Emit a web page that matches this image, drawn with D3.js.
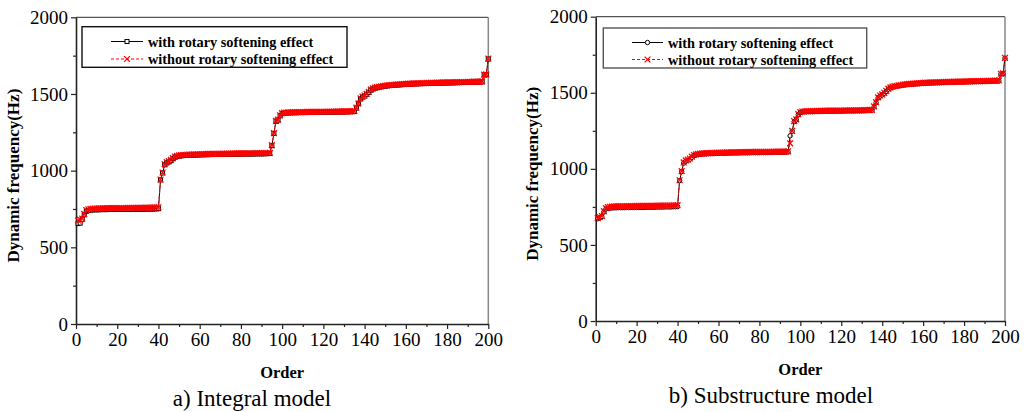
<!DOCTYPE html>
<html>
<head>
<meta charset="utf-8">
<script src="https://cdn.jsdelivr.net/npm/d3@7/dist/d3.min.js"></script>
<style>
  html, body { margin: 0; padding: 0; background: #fff; }
  svg { display: block; }
  text { font-family: "Liberation Serif", "Times New Roman", serif; fill: #000; }
</style>
</head>
<body>
<svg id="chart" width="1029" height="412"></svg>
<script>
// Mode order 1..200
const orders = d3.range(1, 201);

// Integral model, natural frequencies (Hz)
const integralWith = [
  655, 658, 683, 712, 735, 740, 743, 744, 745, 745,
  745, 746, 746, 746, 746, 747, 747, 747, 747, 747,
  748, 748, 748, 748, 748, 748, 749, 749, 749, 749,
  749, 749, 750, 750, 750, 750, 750, 751, 751, 752,
  940, 985, 1038, 1050, 1057, 1065, 1078, 1088, 1092, 1095,
  1097, 1098, 1099, 1100, 1101, 1101, 1102, 1102, 1103, 1103,
  1104, 1104, 1104, 1105, 1105, 1105, 1106, 1106, 1106, 1106,
  1107, 1107, 1107, 1107, 1107, 1108, 1108, 1108, 1108, 1108,
  1109, 1109, 1109, 1109, 1109, 1109, 1110, 1110, 1110, 1110,
  1110, 1111, 1111, 1112, 1163, 1243, 1322, 1330, 1358, 1372,
  1375, 1376, 1377, 1377, 1378, 1378, 1378, 1379, 1379, 1379,
  1379, 1380, 1380, 1380, 1380, 1380, 1381, 1381, 1381, 1381,
  1381, 1382, 1382, 1382, 1382, 1382, 1383, 1383, 1383, 1383,
  1384, 1384, 1384, 1385, 1386, 1408, 1436, 1468, 1480, 1487,
  1498, 1510, 1525, 1533, 1538, 1541, 1544, 1547, 1549, 1551,
  1553, 1555, 1556, 1557, 1558, 1559, 1560, 1561, 1562, 1563,
  1564, 1564, 1565, 1566, 1566, 1567, 1567, 1568, 1568, 1569,
  1569, 1570, 1570, 1570, 1571, 1571, 1571, 1572, 1572, 1572,
  1573, 1573, 1573, 1574, 1574, 1574, 1575, 1575, 1575, 1576,
  1576, 1576, 1577, 1577, 1578, 1578, 1579, 1624, 1626, 1728
];
const integralWithout = [
  675, 680, 688, 718, 742, 748, 751, 752, 753, 753,
  754, 754, 754, 754, 755, 755, 755, 755, 755, 756,
  756, 756, 756, 756, 757, 757, 757, 757, 757, 758,
  758, 758, 758, 759, 759, 759, 759, 760, 760, 761,
  942, 988, 1042, 1055, 1062, 1070, 1082, 1092, 1096, 1099,
  1101, 1102, 1103, 1104, 1105, 1105, 1106, 1106, 1107, 1107,
  1108, 1108, 1108, 1109, 1109, 1109, 1110, 1110, 1110, 1110,
  1111, 1111, 1111, 1111, 1111, 1112, 1112, 1112, 1112, 1112,
  1113, 1113, 1113, 1113, 1113, 1113, 1114, 1114, 1114, 1114,
  1114, 1115, 1115, 1116, 1166, 1245, 1325, 1333, 1361, 1375,
  1378, 1379, 1380, 1380, 1381, 1381, 1381, 1382, 1382, 1382,
  1382, 1383, 1383, 1383, 1383, 1383, 1384, 1384, 1384, 1384,
  1384, 1385, 1385, 1385, 1385, 1385, 1386, 1386, 1386, 1386,
  1387, 1387, 1387, 1388, 1389, 1411, 1439, 1471, 1483, 1490,
  1501, 1513, 1528, 1536, 1541, 1544, 1547, 1550, 1552, 1554,
  1556, 1558, 1559, 1560, 1561, 1562, 1563, 1564, 1565, 1566,
  1567, 1567, 1568, 1569, 1569, 1570, 1570, 1571, 1571, 1572,
  1572, 1573, 1573, 1573, 1574, 1574, 1574, 1575, 1575, 1575,
  1576, 1576, 1576, 1577, 1577, 1577, 1578, 1578, 1578, 1579,
  1579, 1579, 1580, 1580, 1581, 1581, 1582, 1626, 1628, 1731
];

// Substructure model, natural frequencies (Hz)
const substructWith = [
  672, 678, 686, 716, 736, 740, 742, 743, 744, 744,
  745, 745, 745, 745, 746, 746, 746, 746, 746, 747,
  747, 747, 747, 747, 748, 748, 748, 748, 748, 749,
  749, 749, 749, 750, 750, 750, 750, 751, 751, 752,
  922, 982, 1038, 1050, 1056, 1063, 1076, 1087, 1091, 1094,
  1096, 1097, 1098, 1099, 1100, 1100, 1101, 1101, 1102, 1102,
  1103, 1103, 1103, 1104, 1104, 1104, 1105, 1105, 1105, 1105,
  1106, 1106, 1106, 1106, 1106, 1107, 1107, 1107, 1107, 1107,
  1108, 1108, 1108, 1108, 1108, 1108, 1109, 1109, 1109, 1109,
  1109, 1110, 1110, 1111, 1217, 1247, 1310, 1322, 1356, 1370,
  1374, 1375, 1376, 1376, 1377, 1377, 1377, 1378, 1378, 1378,
  1378, 1379, 1379, 1379, 1379, 1379, 1380, 1380, 1380, 1380,
  1380, 1381, 1381, 1381, 1381, 1381, 1382, 1382, 1382, 1382,
  1383, 1383, 1383, 1384, 1385, 1406, 1434, 1466, 1478, 1486,
  1497, 1509, 1524, 1532, 1537, 1540, 1543, 1546, 1548, 1550,
  1552, 1554, 1555, 1556, 1557, 1558, 1559, 1560, 1561, 1562,
  1563, 1563, 1564, 1565, 1565, 1566, 1566, 1567, 1567, 1568,
  1568, 1569, 1569, 1569, 1570, 1570, 1570, 1571, 1571, 1571,
  1572, 1572, 1572, 1573, 1573, 1573, 1574, 1574, 1574, 1575,
  1575, 1575, 1576, 1576, 1577, 1577, 1578, 1623, 1625, 1727
];
const substructWithout = [
  676, 682, 690, 722, 742, 748, 751, 752, 753, 753,
  754, 754, 754, 754, 755, 755, 755, 755, 755, 756,
  756, 756, 756, 756, 757, 757, 757, 757, 757, 758,
  758, 758, 758, 759, 759, 759, 759, 760, 760, 761,
  925, 985, 1042, 1055, 1061, 1068, 1080, 1091, 1095, 1098,
  1100, 1101, 1102, 1103, 1104, 1104, 1105, 1105, 1106, 1106,
  1107, 1107, 1107, 1108, 1108, 1108, 1109, 1109, 1109, 1109,
  1110, 1110, 1110, 1110, 1110, 1111, 1111, 1111, 1111, 1111,
  1112, 1112, 1112, 1112, 1112, 1112, 1113, 1113, 1113, 1113,
  1113, 1114, 1114, 1115, 1168, 1249, 1313, 1325, 1359, 1373,
  1377, 1378, 1379, 1379, 1380, 1380, 1380, 1381, 1381, 1381,
  1381, 1382, 1382, 1382, 1382, 1382, 1383, 1383, 1383, 1383,
  1383, 1384, 1384, 1384, 1384, 1384, 1385, 1385, 1385, 1385,
  1386, 1386, 1386, 1387, 1388, 1410, 1438, 1470, 1482, 1489,
  1500, 1512, 1527, 1535, 1540, 1543, 1546, 1549, 1551, 1553,
  1555, 1557, 1558, 1559, 1560, 1561, 1562, 1563, 1564, 1565,
  1566, 1566, 1567, 1568, 1568, 1569, 1569, 1570, 1570, 1571,
  1571, 1572, 1572, 1572, 1573, 1573, 1573, 1574, 1574, 1574,
  1575, 1575, 1575, 1576, 1576, 1576, 1577, 1577, 1577, 1578,
  1578, 1578, 1579, 1579, 1580, 1580, 1581, 1625, 1627, 1730
];

// Axis ticks
const xMajorTicks = [0, 20, 40, 60, 80, 100, 120, 140, 160, 180, 200];
const xMinorTicks = [10, 30, 50, 70, 90, 110, 130, 150, 170, 190];
const yMajorTicks = [0, 500, 1000, 1500, 2000];
const yMinorTicks = [250, 750, 1250, 1750];

const legendLabels = ["with rotary softening effect", "without rotary softening effect"];
const panelTitles = ["a) Integral model", "b) Substructure model"];
const xTitle = "Order";
const yTitle = "Dynamic frequency(Hz)";

const serif = "'Liberation Serif', 'Times New Roman', serif";
const svg = d3.select("#chart");

const panels = [
  { left: 76, right: 488.3, top: 17.3, bottom: 324, withVals: integralWith, withoutVals: integralWithout,
    marker: "square", title: panelTitles[0], titleX: 252, ylabX: 13,
    legend: { x0: 82, x1: 347, y0: 26.7, y1: 67.3, lx0: 111, lx1: 143, tx: 148, r1: 41.5, r2: 59 } },
  { left: 595.7, right: 1005, top: 16.7, bottom: 321, withVals: substructWith, withoutVals: substructWithout,
    marker: "circle", title: panelTitles[1], titleX: 771, ylabX: 532,
    legend: { x0: 603.3, x1: 866.7, y0: 28, y1: 68, lx0: 632, lx1: 663, tx: 668, r1: 42.5, r2: 59.5 } }
];

function drawPanel(p) {
  const x = d3.scaleLinear().domain([0, 200]).range([p.left, p.right]);
  const y = d3.scaleLinear().domain([0, 2000]).range([p.bottom, p.top]);
  const g = svg.append("g");

  // frame: top and right in grey
  g.append("line").attr("x1", p.left).attr("x2", p.right).attr("y1", p.top).attr("y2", p.top)
    .attr("stroke", "#555").attr("stroke-width", 1.2);
  g.append("line").attr("x1", p.right).attr("x2", p.right).attr("y1", p.top).attr("y2", p.bottom)
    .attr("stroke", "#888").attr("stroke-width", 1.5);

  // x axis
  g.append("g").attr("transform", `translate(0,${p.bottom})`)
    .call(d3.axisBottom(x).tickValues(xMajorTicks).tickSize(5).tickSizeOuter(0).tickPadding(4).tickFormat(d3.format("d")));
  g.append("g").attr("transform", `translate(0,${p.bottom})`)
    .call(d3.axisBottom(x).tickValues(xMinorTicks).tickSize(3).tickSizeOuter(0).tickFormat(""))
    .select(".domain").remove();

  // y axis
  g.append("g").attr("transform", `translate(${p.left},0)`)
    .call(d3.axisLeft(y).tickValues(yMajorTicks).tickSize(5).tickSizeOuter(0).tickPadding(3).tickFormat(d3.format("d")));
  g.append("g").attr("transform", `translate(${p.left},0)`)
    .call(d3.axisLeft(y).tickValues(yMinorTicks).tickSize(3).tickSizeOuter(0).tickFormat(""))
    .select(".domain").remove();

  g.selectAll(".domain").attr("stroke", "#222").attr("stroke-width", 1.6);
  g.selectAll(".tick line").attr("stroke", "#222").attr("stroke-width", 1.2);
  g.selectAll(".tick text").style("font-family", serif).style("font-size", "19px").attr("fill", "#000");

  // axis titles
  g.append("text").attr("x", (p.left + p.right) / 2).attr("y", p.bottom + 54)
    .attr("text-anchor", "middle").style("font-size", "16.5px").style("font-weight", "bold").text(xTitle);
  g.append("text")
    .attr("transform", `translate(${p.ylabX},${(p.top + p.bottom) / 2 + 5}) rotate(-90)`)
    .attr("text-anchor", "middle").attr("dy", "0.35em")
    .style("font-size", "17px").style("font-weight", "bold").text(yTitle);

  // panel caption
  g.append("text").attr("x", p.titleX).attr("y", p.bottom + 82)
    .attr("text-anchor", "middle").style("font-size", "23px").text(p.title);

  // series
  const line = d3.line().x((d, i) => x(orders[i])).y(d => y(d));

  g.append("path").datum(p.withVals).attr("d", line)
    .attr("fill", "none").attr("stroke", "#000").attr("stroke-width", 1);
  drawBlackMarkers(g, p.withVals.map((v, i) => [x(orders[i]), y(v)]), p.marker);

  g.append("path").datum(p.withoutVals).attr("d", line)
    .attr("fill", "none").attr("stroke", "#ff0000").attr("stroke-width", 1).attr("stroke-dasharray", "3,2");
  drawCrosses(g, p.withoutVals.map((v, i) => [x(orders[i]), y(v)]));

  // legend
  const L = p.legend;
  const lg = g.append("g");
  lg.append("rect").attr("x", L.x0).attr("y", L.y0).attr("width", L.x1 - L.x0).attr("height", L.y1 - L.y0)
    .attr("fill", "#fff").attr("stroke", p.marker === "square" ? "#111" : "#555").attr("stroke-width", 1.4);
  lg.append("line").attr("x1", L.lx0).attr("x2", L.lx1).attr("y1", L.r1).attr("y2", L.r1)
    .attr("stroke", "#000").attr("stroke-width", 1);
  drawBlackMarkers(lg, [[(L.lx0 + L.lx1) / 2, L.r1]], p.marker);
  lg.append("line").attr("x1", L.lx0).attr("x2", L.lx1).attr("y1", L.r2).attr("y2", L.r2)
    .attr("stroke", "#ff0000").attr("stroke-width", 1).attr("stroke-dasharray", "3,2");
  drawCrosses(lg, [[(L.lx0 + L.lx1) / 2, L.r2]]);
  lg.append("text").attr("x", L.tx).attr("y", L.r1).attr("dy", "0.35em")
    .style("font-size", "14.3px").style("font-weight", "bold").text(legendLabels[0]);
  lg.append("text").attr("x", L.tx).attr("y", L.r2).attr("dy", "0.35em")
    .style("font-size", "14.3px").style("font-weight", "bold").text(legendLabels[1]);
}

function drawBlackMarkers(g, pts, shape) {
  if (shape === "square") {
    g.selectAll(null).data(pts).enter().append("rect")
      .attr("x", d => d[0] - 2).attr("y", d => d[1] - 2).attr("width", 4).attr("height", 4)
      .attr("fill", "#fff").attr("stroke", "#000").attr("stroke-width", 1);
  } else {
    g.selectAll(null).data(pts).enter().append("circle")
      .attr("cx", d => d[0]).attr("cy", d => d[1]).attr("r", 2.2)
      .attr("fill", "#fff").attr("stroke", "#000").attr("stroke-width", 1);
  }
}

function drawCrosses(g, pts) {
  const s = 2.9;
  g.selectAll(null).data(pts).enter().append("path")
    .attr("d", d => `M${d[0] - s},${d[1] - s}L${d[0] + s},${d[1] + s}M${d[0] - s},${d[1] + s}L${d[0] + s},${d[1] - s}`)
    .attr("stroke", "#ff0000").attr("stroke-width", 1.3).attr("fill", "none");
}

panels.forEach(drawPanel);
</script>
</body>
</html>
